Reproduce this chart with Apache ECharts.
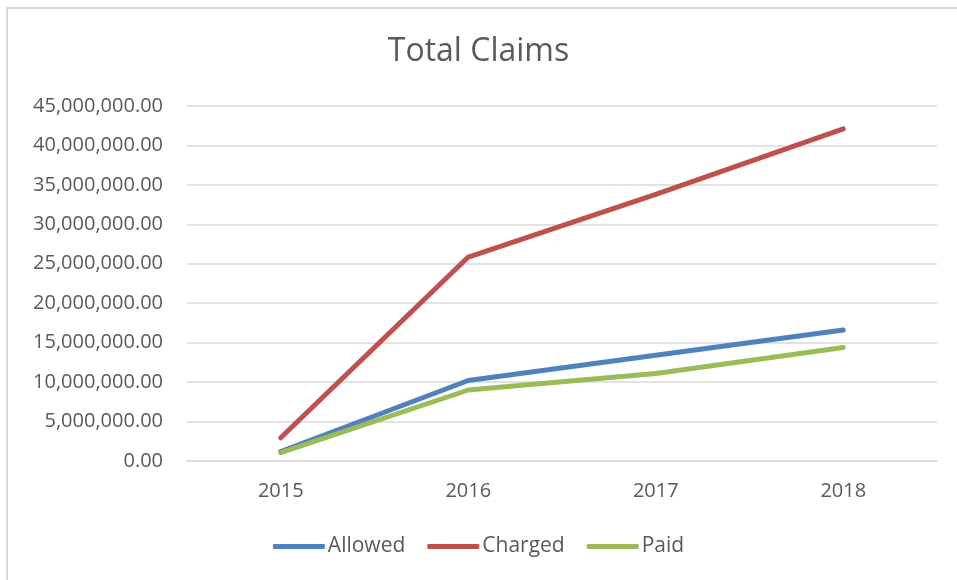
<!DOCTYPE html>
<html>
<head>
<meta charset="utf-8">
<script src="https://cdn.jsdelivr.net/npm/echarts@6/dist/echarts.min.js"></script>
<style>
  html, body { margin: 0; padding: 0; background: #fff; }
  #main { width: 957px; height: 580px; position: relative; }
  .frame {
    position: absolute; left: 6px; top: 7px; width: 960px; height: 580px;
    border-left: 2px solid #d9d9d9; border-top: 2px solid #d9d9d9;
    pointer-events: none; box-sizing: border-box;
  }
</style>
</head>
<body>
<div style="position: relative; width: 957px; height: 580px; overflow: hidden;">
  <div id="main"></div>
  <div class="frame"></div>
</div>
<script>
  var years = ['2015', '2016', '2017', '2018'];
  var allowed = [1200000, 10200000, 13400000, 16600000];
  var charged = [2950000, 25850000, 33800000, 42100000];
  var paid = [1050000, 9000000, 11100000, 14400000];

  var textColor = '#595959';
  var fontFamily = 'Open Sans';

  function fmt(v) {
    return Number(v).toLocaleString('en-US', { minimumFractionDigits: 2, maximumFractionDigits: 2 });
  }

  function lineSeries(name, data, color) {
    return {
      name: name,
      type: 'line',
      data: data,
      symbol: 'none',
      lineStyle: { color: color, width: 5, cap: 'round', join: 'round' },
      itemStyle: { color: color }
    };
  }

  var chart = echarts.init(document.getElementById('main'));
  chart.setOption({
    animation: false,
    title: {
      text: 'Total Claims',
      left: 'center',
      top: 31,
      textStyle: { color: textColor, fontSize: 32, fontWeight: 'normal', fontFamily: fontFamily }
    },
    legend: {
      bottom: 18,
      left: 'center',
      itemWidth: 52,
      itemHeight: 5,
      itemGap: 22,
      icon: 'roundRect',
      textStyle: { color: textColor, fontSize: 21, fontFamily: fontFamily, padding: [0, 0, 0, -2] },
      data: ['Allowed', 'Charged', 'Paid']
    },
    grid: {
      left: 187,
      right: 20,
      top: 106,
      bottom: 119,
      containLabel: false
    },
    xAxis: {
      type: 'category',
      data: years,
      boundaryGap: true,
      axisLine: { lineStyle: { color: '#d9d9d9', width: 1.5 } },
      axisTick: { show: false },
      axisLabel: { color: textColor, fontSize: 20, fontFamily: fontFamily, margin: 20 }
    },
    yAxis: {
      type: 'value',
      min: 0,
      max: 45000000,
      interval: 5000000,
      axisLine: { show: false },
      axisTick: { show: false },
      splitLine: { lineStyle: { color: '#d9d9d9', width: 1.5 } },
      axisLabel: {
        color: textColor, fontSize: 20, fontFamily: fontFamily, margin: 24,
        formatter: fmt
      }
    },
    series: [
      lineSeries('Allowed', allowed, '#4f81bd'),
      lineSeries('Charged', charged, '#c0504d'),
      lineSeries('Paid', paid, '#9bbb59')
    ]
  });
</script>
</body>
</html>
